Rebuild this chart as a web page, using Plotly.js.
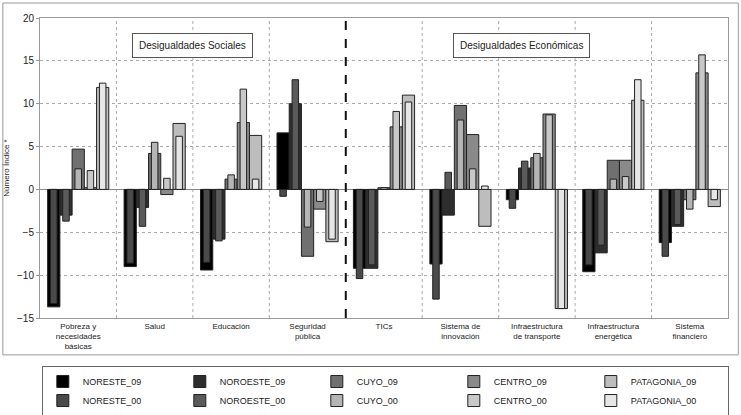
<!DOCTYPE html>
<html>
<head>
<meta charset="utf-8">
<script src="https://cdn.plot.ly/plotly-3.0.1.min.js"></script>
<style>body{margin:0;background:#fff}#graph{width:741px;height:415px}</style>
</head>
<body>
<div id="graph"></div>
<script>
const categories = ['Pobreza y<br>necesidades<br>básicas', 'Salud', 'Educación', 'Seguridad<br>pública', 'TICs',
  'Sistema de<br>innovación', 'Infraestructura<br>de transporte', 'Infraestructura<br>energética', 'Sistema<br>financiero'];
const regions = ['NORESTE', 'NOROESTE', 'CUYO', 'CENTRO', 'PATAGONIA'];

const noreste09 = [-13.7, -9.0, -9.4, 6.6, -9.2, -8.7, -1.2, -9.6, -6.2];
const noreste00 = [-13.3, -8.6, -8.5, -0.8, -10.4, -12.8, -2.2, -8.8, -7.8];
const noroeste09 = [-3.0, -2.1, -5.8, 10.0, -9.2, -3.0, 2.5, -7.4, -4.3];
const noroeste00 = [-3.7, -4.3, -6.0, 12.8, -8.8, 2.0, 3.3, -6.5, -4.1];
const cuyo09 = [4.7, 4.2, 1.2, -7.8, 0.2, 9.8, 3.7, 3.4, -1.2];
const cuyo00 = [2.4, 5.5, 1.7, -4.4, 0.2, 8.1, 4.2, 1.2, -2.3];
const centro09 = [0.2, -0.6, 7.8, -2.3, 7.3, 6.4, 8.8, 3.4, 13.6];
const centro00 = [2.2, 1.3, 11.7, -1.4, 9.1, 2.4, 8.7, 1.5, 15.7];
const patagonia09 = [11.9, 7.7, 6.3, -6.1, 11.0, -4.3, -13.9, 10.4, -2.0];
const patagonia00 = [12.4, 6.2, 1.2, -5.8, 10.2, 0.4, -13.9, 12.8, -1.2];

const series09 = [noreste09, noroeste09, cuyo09, centro09, patagonia09];
const series00 = [noreste00, noroeste00, cuyo00, centro00, patagonia00];
const colors09 = ['#000000', '#2e2e2e', '#707070', '#8a8a8a', '#bdbdbd'];
const colors00 = ['#4a4a4a', '#5a5a5a', '#b5b5b5', '#c8c8c8', '#e6e6e6'];

const xs = categories.map((c, i) => i);
const slot = 0.16, wide = 0.16, narrow = 0.085;
const traces = [];
series09.forEach((s, i) => {
  const c = -0.4 + slot * (i + 0.5);
  traces.push({type: 'bar', x: xs, y: s, name: regions[i] + '_09', width: wide, offset: c - wide / 2,
    marker: {color: colors09[i], line: {color: '#222', width: 1}}});
});
series00.forEach((s, i) => {
  const c = -0.4 + slot * (i + 0.5);
  traces.push({type: 'bar', x: xs, y: s, name: regions[i] + '_00', width: narrow, offset: c - narrow / 2,
    marker: {color: colors00[i], line: {color: '#222', width: 1}}});
});

const shapes = [];
for (let i = 0; i < 8; i++) {
  if (i === 3) continue;
  shapes.push({type: 'line', xref: 'x', yref: 'paper', x0: i + 0.5, x1: i + 0.5, y0: 0, y1: 1,
    line: {color: '#aaa', width: 1, dash: 'dot'}, layer: 'below'});
}
shapes.push({type: 'line', xref: 'x', yref: 'paper', x0: 3.5, x1: 3.5, y0: 0, y1: 1,
  line: {color: '#111', width: 2, dash: 'dash'}});
shapes.push({type: 'rect', xref: 'paper', yref: 'paper', x0: -0.054, x1: 1.015, y0: -0.123, y1: 1.05,
  line: {color: '#999', width: 1}});

const layout = {
  width: 741, height: 415,
  margin: {l: 40, r: 13, t: 18, b: 97},
  barmode: 'overlay',
  font: {family: 'Liberation Sans, Arial, sans-serif', size: 8, color: '#222'},
  paper_bgcolor: '#fff', plot_bgcolor: '#fff',
  xaxis: {tickvals: xs, ticktext: categories, range: [-0.5, 8.5], showgrid: false, zeroline: false,
    showline: true, linecolor: '#999', mirror: true, ticks: '', tickfont: {size: 8}},
  yaxis: {range: [-15, 20], dtick: 5, showgrid: true, gridcolor: '#aaa', griddash: 'dot',
    zeroline: true, zerolinecolor: '#888', zerolinewidth: 1, showline: true, linecolor: '#999', mirror: true,
    ticks: 'outside', ticklen: 3, tickcolor: '#999', tickfont: {size: 10},
    title: {text: 'Número Índice *', font: {size: 8}, standoff: 6}},
  showlegend: true,
  legend: {orientation: 'h', x: 0.52, xanchor: 'center', xref: 'container', yref: 'container', y: 0.118, yanchor: 'top',
    entrywidth: 92, bordercolor: '#666', borderwidth: 1, font: {size: 9}, traceorder: 'normal',
    itemwidth: 30, tracegroupgap: 0},
  shapes: shapes,
  annotations: [
    {xref: 'x', yref: 'paper', x: 1.5, y: 0.95, text: 'Desigualdades Sociales', showarrow: false,
      bordercolor: '#555', borderwidth: 1, borderpad: 6, bgcolor: '#fff', font: {size: 10}},
    {xref: 'x', yref: 'paper', x: 5.8, y: 0.95, text: 'Desigualdades Económicas', showarrow: false,
      bordercolor: '#555', borderwidth: 1, borderpad: 6, bgcolor: '#fff', font: {size: 10}}
  ]
};
Plotly.newPlot('graph', traces, layout, {displayModeBar: false});
</script>
</body>
</html>
